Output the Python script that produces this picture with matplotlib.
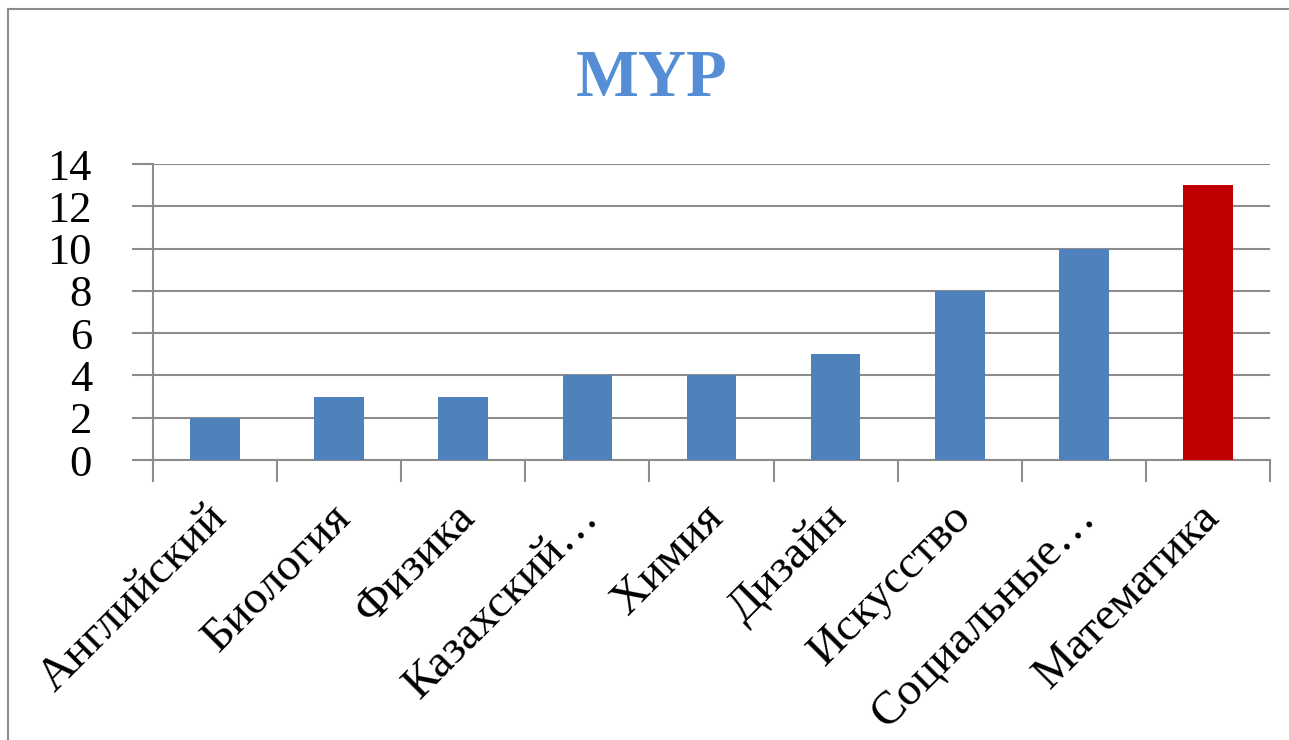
import matplotlib.pyplot as plt
from matplotlib.lines import Line2D
from matplotlib.transforms import ScaledTranslation

categories = ['Английский', 'Биология', 'Физика', 'Казахский…', 'Химия',
              'Дизайн', 'Искусство', 'Социальные…', 'Математика']
values = [2, 3, 3, 4, 4, 5, 8, 10, 13]
colors = ['#4F81BD'] * 8 + ['#C00000']
yticks = [0, 2, 4, 6, 8, 10, 12, 14]

plt.rcParams['font.family'] = ['Liberation Serif', 'DejaVu Serif']

fig = plt.figure(figsize=(12.89, 7.40), dpi=100)
ax = fig.add_axes([153 / 1289, 1 - 460 / 740, (1270 - 153) / 1289, (460 - 164) / 740])

grid_c = '#8C8C8C'
x = list(range(len(categories)))
ax.bar(x, values, width=0.4, color=colors, zorder=3)

ax.set_xlim(-0.5, len(categories) - 0.5)
ax.set_ylim(0, 14)
ax.set_yticks(yticks)
ax.set_yticklabels([str(v) for v in yticks], fontsize=32)
ax.yaxis.grid(True, color=grid_c, linewidth=1.5, zorder=0)
ax.tick_params(axis='y', length=15, width=1.5, color=grid_c, pad=29)

# category boundary ticks
ax.set_xticks([i - 0.5 for i in range(len(categories) + 1)])
ax.set_xticklabels([])
ax.set_xticks(x, minor=True)
ax.set_xticklabels(categories, minor=True, rotation=45, ha='right',
                   rotation_mode='anchor', fontsize=34)
ax.tick_params(axis='x', which='major', length=16, width=1.5, color=grid_c)
ax.tick_params(axis='x', which='minor', length=0, pad=26)
shift = ScaledTranslation(-10 / 100, 0, fig.dpi_scale_trans)
for lbl in ax.get_xticklabels(minor=True):
    lbl.set_transform(lbl.get_transform() + shift)

for s in ['top', 'right']:
    ax.spines[s].set_visible(False)
for s in ['left', 'bottom']:
    ax.spines[s].set_color(grid_c)
    ax.spines[s].set_linewidth(1.5)

fig.text(652 / 1289, 1 - 80 / 740, 'MYP', ha='center', va='center',
         fontsize=48, fontweight='bold', color='#558ED5')

# outer chart frame
fig.add_artist(Line2D([8 / 1289, 8 / 1289], [0, 1 - 9 / 740], color='#8C8C8C', linewidth=1.5))
fig.add_artist(Line2D([8 / 1289, 1], [1 - 9 / 740, 1 - 9 / 740], color='#8C8C8C', linewidth=1.5))

fig.savefig('out.png', dpi=100)
